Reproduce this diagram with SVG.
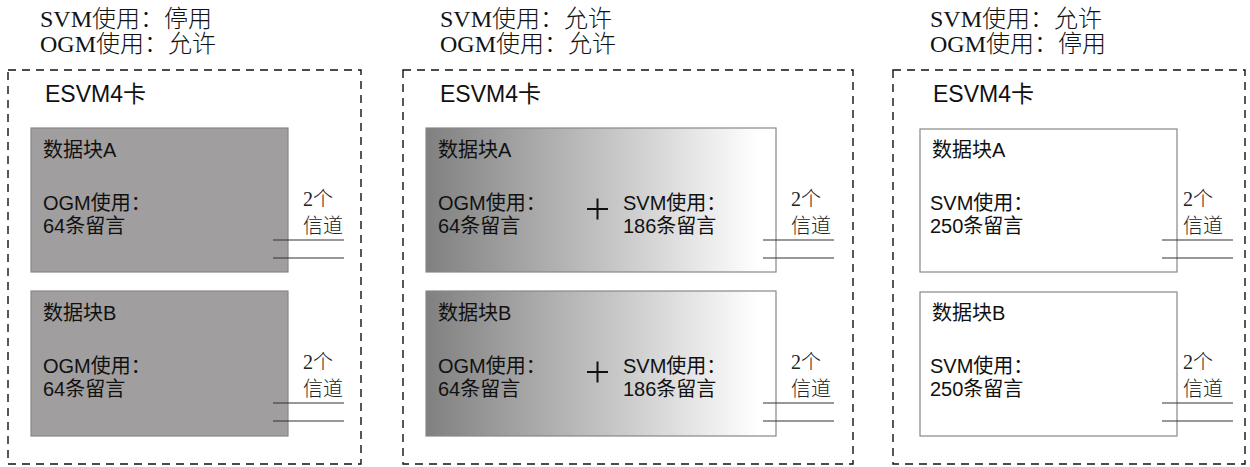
<svg xmlns="http://www.w3.org/2000/svg" width="1250" height="467" viewBox="0 0 1250 467">
<style>
.hdr{font-family:"Liberation Serif","Noto Sans CJK SC",serif;font-size:24px;font-weight:300;fill:#111}
.card{fill:none;stroke:#111;stroke-width:1.4;stroke-dasharray:8 6}
.title{font-family:"Liberation Sans","Noto Sans CJK SC",sans-serif;font-size:23px;fill:#111}
.lbl{font-family:"Liberation Sans","Noto Sans CJK SC",sans-serif;font-size:20px;fill:#111}
.ch{font-family:"Liberation Serif","Noto Sans CJK SC",serif;font-size:20px;font-weight:300;fill:#222}
.blk{stroke:#888;stroke-width:1.2}
.gray{fill:#a09e9e}
.white{fill:#fff}
.grad{fill:url(#g)}
.ln{stroke:#333;stroke-width:1.2}
.plus{stroke:#111;stroke-width:2}
</style>
<defs>
<linearGradient id="g" x1="0" y1="0" x2="1" y2="0">
<stop offset="0" stop-color="#808080"/>
<stop offset="0.55" stop-color="#c8c8c8"/>
<stop offset="0.95" stop-color="#ffffff"/>
</linearGradient>
</defs>
<g id="panel1">
<text class="hdr" x="40" y="27">SVM使用：停用</text>
<text class="hdr" x="40" y="52">OGM使用：允许</text>
<rect class="card" x="8" y="70" width="353" height="394"/>
<text class="title" x="45" y="102">ESVM4卡</text>
<g id="p1a">
<rect class="blk gray" x="31" y="128" width="257" height="144"/>
<text class="lbl" x="43" y="157">数据块A</text>
<text class="lbl" x="43" y="210">OGM使用：</text>
<text class="lbl" x="43" y="233">64条留言</text>
</g>
<g id="p1b">
<rect class="blk gray" x="31" y="291" width="257" height="145"/>
<text class="lbl" x="43" y="320">数据块B</text>
<text class="lbl" x="43" y="373">OGM使用：</text>
<text class="lbl" x="43" y="396">64条留言</text>
</g>
</g>
<g id="panel2">
<text class="hdr" x="440" y="27">SVM使用：允许</text>
<text class="hdr" x="440" y="52">OGM使用：允许</text>
<rect class="card" x="403" y="70" width="450" height="394"/>
<text class="title" x="440" y="102">ESVM4卡</text>
<g id="p2a">
<rect class="blk grad" x="426" y="128" width="350" height="144"/>
<text class="lbl" x="438" y="157">数据块A</text>
<text class="lbl" x="438" y="210">OGM使用：</text>
<text class="lbl" x="438" y="233">64条留言</text>
<path class="plus" d="M587 209H608M597.5 198.5V219.5"/>
<text class="lbl" x="623" y="210">SVM使用：</text>
<text class="lbl" x="623" y="233">186条留言</text>
</g>
<g id="p2b">
<rect class="blk grad" x="426" y="291" width="350" height="145"/>
<text class="lbl" x="438" y="320">数据块B</text>
<text class="lbl" x="438" y="373">OGM使用：</text>
<text class="lbl" x="438" y="396">64条留言</text>
<path class="plus" d="M587 372H608M597.5 361.5V382.5"/>
<text class="lbl" x="623" y="373">SVM使用：</text>
<text class="lbl" x="623" y="396">186条留言</text>
</g>
</g>
<g id="panel3">
<text class="hdr" x="930" y="27">SVM使用：允许</text>
<text class="hdr" x="930" y="52">OGM使用：停用</text>
<rect class="card" x="893" y="70" width="352" height="394"/>
<text class="title" x="933" y="102">ESVM4卡</text>
<g id="p3a">
<rect class="blk white" x="920" y="129" width="257" height="143"/>
<text class="lbl" x="932" y="157">数据块A</text>
<text class="lbl" x="930" y="210">SVM使用：</text>
<text class="lbl" x="930" y="233">250条留言</text>
</g>
<g id="p3b">
<rect class="blk white" x="920" y="292" width="257" height="144"/>
<text class="lbl" x="932" y="320">数据块B</text>
<text class="lbl" x="930" y="373">SVM使用：</text>
<text class="lbl" x="930" y="396">250条留言</text>
</g>
</g>
<g id="channels">
<text class="ch" x="303" y="206">2个</text>
<text class="ch" x="303" y="233">信道</text>
<text class="ch" x="303" y="369">2个</text>
<text class="ch" x="303" y="396">信道</text>
<text class="ch" x="791" y="206">2个</text>
<text class="ch" x="791" y="233">信道</text>
<text class="ch" x="791" y="369">2个</text>
<text class="ch" x="791" y="396">信道</text>
<text class="ch" x="1183" y="206">2个</text>
<text class="ch" x="1183" y="233">信道</text>
<text class="ch" x="1183" y="369">2个</text>
<text class="ch" x="1183" y="396">信道</text>
</g>
<g id="connectors">
<path class="ln" d="M273 240H344M273 258H344M273 403H344M273 421H344"/>
<path class="ln" d="M763 240H834M763 258H834M763 403H834M763 421H834"/>
<path class="ln" d="M1162 240H1233M1162 258H1233M1162 403H1233M1162 421H1233"/>
</g>
</svg>
